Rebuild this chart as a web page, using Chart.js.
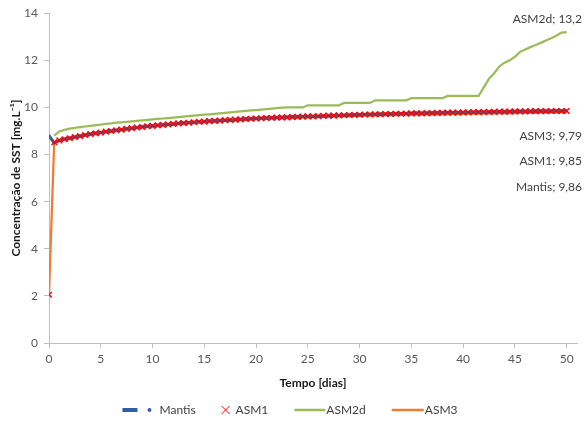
<!DOCTYPE html>
<html lang="pt">
<head>
<meta charset="UTF-8">
<title>Concentração de SST</title>
<script src="https://cdn.jsdelivr.net/npm/chart.js"></script>
<style>
  body { margin: 0; background: #fff; }
</style>
</head>
<body>
<canvas id="grafico" width="584" height="422"></canvas>
<script>
// tempo em dias (passo de 0,5)
const dias = [
  0, 0.5, 1, 1.5, 2, 2.5, 3, 3.5, 4, 4.5,
  5, 5.5, 6, 6.5, 7, 7.5, 8, 8.5, 9, 9.5,
  10, 10.5, 11, 11.5, 12, 12.5, 13, 13.5, 14, 14.5,
  15, 15.5, 16, 16.5, 17, 17.5, 18, 18.5, 19, 19.5,
  20, 20.5, 21, 21.5, 22, 22.5, 23, 23.5, 24, 24.5,
  25, 25.5, 26, 26.5, 27, 27.5, 28, 28.5, 29, 29.5,
  30, 30.5, 31, 31.5, 32, 32.5, 33, 33.5, 34, 34.5,
  35, 35.5, 36, 36.5, 37, 37.5, 38, 38.5, 39, 39.5,
  40, 40.5, 41, 41.5, 42, 42.5, 43, 43.5, 44, 44.5,
  45, 45.5, 46, 46.5, 47, 47.5, 48, 48.5, 49, 49.5, 50
];

const mantis = [
  8.80, 8.50, 8.60, 8.66, 8.70, 8.75, 8.79, 8.83, 8.87, 8.91,
  8.94, 8.97, 9.00, 9.03, 9.06, 9.09, 9.12, 9.15, 9.18, 9.20,
  9.22, 9.24, 9.26, 9.28, 9.30, 9.32, 9.34, 9.36, 9.37, 9.39,
  9.40, 9.42, 9.43, 9.45, 9.46, 9.47, 9.48, 9.50, 9.51, 9.52,
  9.53, 9.54, 9.55, 9.56, 9.57, 9.58, 9.59, 9.60, 9.60, 9.61,
  9.62, 9.63, 9.63, 9.64, 9.65, 9.66, 9.66, 9.67, 9.68, 9.69,
  9.69, 9.70, 9.71, 9.71, 9.72, 9.72, 9.73, 9.73, 9.74, 9.74,
  9.75, 9.76, 9.76, 9.76, 9.77, 9.77, 9.78, 9.78, 9.79, 9.79,
  9.79, 9.80, 9.80, 9.81, 9.81, 9.81, 9.82, 9.82, 9.82, 9.83,
  9.83, 9.84, 9.84, 9.84, 9.85, 9.85, 9.85, 9.85, 9.86, 9.86, 9.86
];

const asm1 = [
  2.05, 8.52, 8.60, 8.65, 8.69, 8.74, 8.78, 8.83, 8.87, 8.90,
  8.93, 8.97, 9.00, 9.03, 9.06, 9.09, 9.12, 9.15, 9.17, 9.20,
  9.22, 9.24, 9.26, 9.28, 9.30, 9.32, 9.34, 9.35, 9.37, 9.39,
  9.40, 9.42, 9.43, 9.44, 9.46, 9.47, 9.48, 9.49, 9.51, 9.52,
  9.53, 9.54, 9.55, 9.56, 9.57, 9.58, 9.58, 9.59, 9.60, 9.61,
  9.62, 9.62, 9.63, 9.64, 9.65, 9.65, 9.66, 9.67, 9.68, 9.68,
  9.69, 9.70, 9.70, 9.71, 9.71, 9.72, 9.72, 9.73, 9.73, 9.74,
  9.75, 9.75, 9.75, 9.76, 9.76, 9.77, 9.77, 9.78, 9.78, 9.78,
  9.79, 9.79, 9.80, 9.80, 9.80, 9.81, 9.81, 9.82, 9.82, 9.82,
  9.83, 9.83, 9.83, 9.84, 9.84, 9.84, 9.84, 9.85, 9.85, 9.85, 9.85
];

const asm2d = [
  null, 8.80, 8.98, 9.05, 9.10, 9.13, 9.16, 9.19, 9.22, 9.25,
  9.27, 9.30, 9.32, 9.35, 9.37, 9.39, 9.41, 9.43, 9.45, 9.47,
  9.49, 9.51, 9.53, 9.55, 9.57, 9.59, 9.61, 9.63, 9.65, 9.67,
  9.69, 9.71, 9.73, 9.75, 9.77, 9.79, 9.81, 9.83, 9.85, 9.87,
  9.89, 9.91, 9.93, 9.95, 9.97, 9.99, 10.00, 10.00, 10.00, 10.00,
  10.09, 10.09, 10.09, 10.09, 10.09, 10.09, 10.09, 10.19, 10.19, 10.19,
  10.19, 10.19, 10.19, 10.30, 10.30, 10.30, 10.30, 10.30, 10.30, 10.30,
  10.39, 10.39, 10.39, 10.39, 10.39, 10.39, 10.39, 10.49, 10.49, 10.49,
  10.49, 10.49, 10.49, 10.49, 10.85, 11.22, 11.45, 11.74, 11.90, 12.00,
  12.15, 12.36, 12.46, 12.56, 12.65, 12.74, 12.84, 12.94, 13.04, 13.18, 13.20
];

const asm3 = [
  2.05, 8.50, 8.58, 8.63, 8.68, 8.72, 8.77, 8.81, 8.85, 8.88,
  8.92, 8.95, 8.98, 9.01, 9.04, 9.07, 9.10, 9.13, 9.15, 9.18,
  9.20, 9.22, 9.24, 9.26, 9.28, 9.30, 9.31, 9.33, 9.35, 9.36,
  9.38, 9.39, 9.40, 9.42, 9.43, 9.44, 9.45, 9.46, 9.48, 9.49,
  9.50, 9.51, 9.52, 9.53, 9.54, 9.54, 9.55, 9.56, 9.57, 9.58,
  9.58, 9.59, 9.60, 9.60, 9.61, 9.62, 9.62, 9.63, 9.63, 9.64,
  9.64, 9.65, 9.65, 9.66, 9.66, 9.67, 9.67, 9.68, 9.68, 9.69,
  9.69, 9.70, 9.70, 9.71, 9.71, 9.71, 9.72, 9.72, 9.73, 9.73,
  9.73, 9.74, 9.74, 9.74, 9.75, 9.75, 9.75, 9.76, 9.76, 9.76,
  9.76, 9.77, 9.77, 9.77, 9.77, 9.78, 9.78, 9.78, 9.78, 9.79, 9.79
];

const FONTE = 'Lato, "Open Sans", sans-serif';
const AZUL = '#2f5f9e';
const VERMELHO = '#ff0000';
const VERDE = '#9bbb59';
const LARANJA = '#ed7d31';

function pontos(vals) {
  return dias.map((d, i) => ({ x: d, y: vals[i] }));
}

// rótulos de dados no fim das séries (posição em valores do eixo y)
const rotulos = [
  { texto: 'ASM2d; 13,2', yVal: 13.75 },
  { texto: 'ASM3; 9,79', yVal: 8.8 },
  { texto: 'ASM1; 9,85', yVal: 7.7 },
  { texto: 'Mantis; 9,86', yVal: 6.62 }
];

const rotulosPlugin = {
  id: 'rotulos',
  afterDatasetsDraw(chart) {
    const ctx = chart.ctx;
    const ys = chart.scales.y;
    ctx.save();
    ctx.font = '12px ' + FONTE;
    ctx.fillStyle = '#404040';
    ctx.textAlign = 'right';
    ctx.textBaseline = 'middle';
    rotulos.forEach(r => {
      ctx.fillText(r.texto, chart.chartArea.right + 5, ys.getPixelForValue(r.yVal));
    });
    ctx.restore();
  }
};

// legenda desenhada à mão para imitar o estilo do Excel
const legendaPlugin = {
  id: 'legendaExcel',
  afterDraw(chart) {
    const ctx = chart.ctx;
    const y = 410;
    ctx.save();
    ctx.font = '12px ' + FONTE;
    ctx.textBaseline = 'middle';
    ctx.fillStyle = '#404040';
    const itens = [
      { nome: 'Mantis', w: 33, gap: 4, desenha: (x) => {
        ctx.fillStyle = AZUL;
        ctx.fillRect(x, y - 2, 15, 4);
        ctx.beginPath(); ctx.arc(x + 27, y, 2, 0, Math.PI * 2); ctx.fill();
      } },
      { nome: 'ASM1', w: 9, gap: 5, desenha: (x) => {
        ctx.strokeStyle = VERMELHO; ctx.lineWidth = 1;
        ctx.beginPath();
        ctx.moveTo(x, y - 4); ctx.lineTo(x + 8, y + 4);
        ctx.moveTo(x + 8, y - 4); ctx.lineTo(x, y + 4);
        ctx.stroke();
      } },
      { nome: 'ASM2d', w: 31, gap: 1, desenha: (x) => {
        ctx.strokeStyle = VERDE; ctx.lineWidth = 2.5;
        ctx.beginPath(); ctx.moveTo(x, y); ctx.lineTo(x + 31, y); ctx.stroke();
      } },
      { nome: 'ASM3', w: 32, gap: 1, desenha: (x) => {
        ctx.strokeStyle = LARANJA; ctx.lineWidth = 2.5;
        ctx.beginPath(); ctx.moveTo(x, y); ctx.lineTo(x + 32, y); ctx.stroke();
      } }
    ];
    const espaco = 26;
    let total = 0;
    itens.forEach((it, i) => {
      it.tw = ctx.measureText(it.nome).width;
      total += it.w + it.gap + it.tw + (i < itens.length - 1 ? espaco : 0);
    });
    let x = 290 - total / 2;
    itens.forEach(it => {
      it.desenha(x);
      ctx.fillStyle = '#404040';
      ctx.textAlign = 'left';
      ctx.fillText(it.nome, x + it.w + it.gap, y);
      x += it.w + it.gap + it.tw + espaco;
    });
    ctx.restore();
  }
};

Chart.defaults.font.family = FONTE;

new Chart(document.getElementById('grafico'), {
  type: 'line',
  data: {
    datasets: [
      {
        label: 'Mantis',
        data: pontos(mantis),
        borderColor: AZUL,
        backgroundColor: AZUL,
        borderWidth: 3,
        pointRadius: 1.5,
        pointBorderWidth: 0,
        order: 2
      },
      {
        label: 'ASM1',
        data: pontos(asm1),
        showLine: false,
        pointStyle: 'crossRot',
        pointRadius: 4,
        pointBorderWidth: 1.4,
        borderColor: VERMELHO,
        backgroundColor: VERMELHO,
        order: 1
      },
      {
        label: 'ASM2d',
        data: pontos(asm2d),
        borderColor: VERDE,
        borderWidth: 2.25,
        pointRadius: 0,
        spanGaps: false,
        order: 4
      },
      {
        label: 'ASM3',
        data: pontos(asm3),
        borderColor: LARANJA,
        borderWidth: 2.25,
        pointRadius: 0,
        order: 3
      }
    ]
  },
  options: {
    responsive: false,
    animation: false,
    devicePixelRatio: 1,
    layout: { padding: { top: 9, right: 7, bottom: 30, left: 0 } },
    plugins: {
      legend: { display: false },
      tooltip: { enabled: false }
    },
    scales: {
      x: {
        type: 'linear',
        min: 0,
        max: 51,
        afterFit: (s) => { s.height = 49; },
        ticks: { stepSize: 5, includeBounds: false, color: '#595959', padding: 4, font: { size: 12 } },
        grid: { drawOnChartArea: false, drawTicks: true, tickLength: 5, color: '#bfbfbf' },
        border: { color: '#bfbfbf' },
        title: {
          display: true,
          text: 'Tempo [dias]',
          color: '#1a1a1a',
          font: { size: 12, weight: 'bold' },
          padding: { top: 0, bottom: 2 }
        }
      },
      y: {
        min: 0,
        max: 14,
        afterFit: (s) => { s.width = 49; },
        ticks: { stepSize: 2, color: '#595959', padding: 6, font: { size: 12 } },
        grid: { drawOnChartArea: false, drawTicks: true, tickLength: 5, color: '#bfbfbf' },
        border: { color: '#bfbfbf' },
        title: {
          display: true,
          text: 'Concentração de SST [mg.L⁻¹]',
          color: '#1a1a1a',
          font: { size: 12, weight: 'bold' },
          padding: { top: 9, bottom: 0 }
        }
      }
    }
  },
  plugins: [rotulosPlugin, legendaPlugin]
});
</script>
</body>
</html>
